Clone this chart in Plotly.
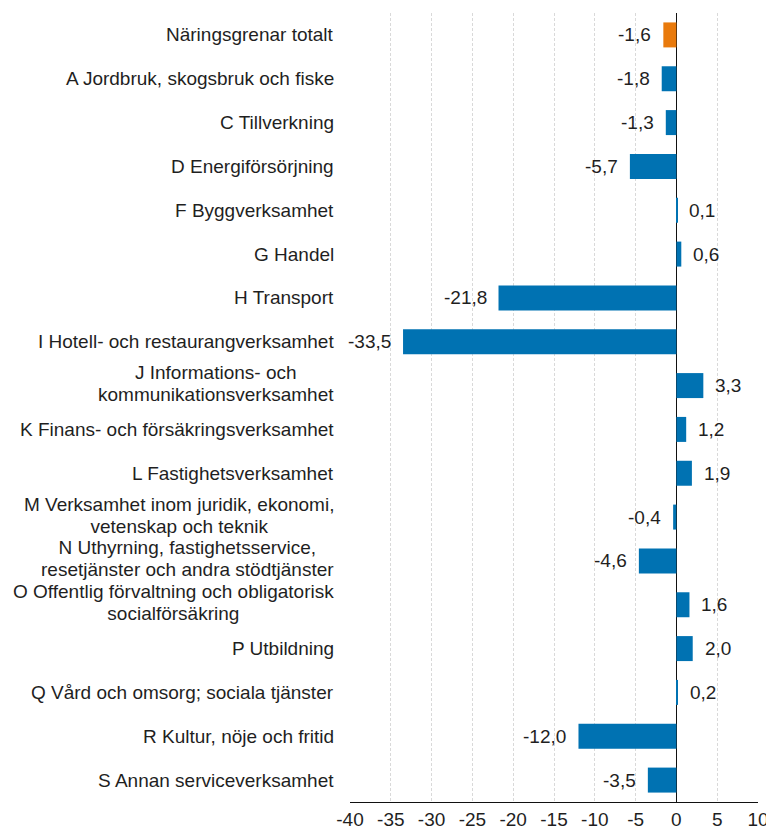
import plotly.graph_objects as go

categories = [
    "Näringsgrenar totalt",
    "A Jordbruk, skogsbruk och fiske",
    "C Tillverkning",
    "D Energiförsörjning",
    "F Byggverksamhet",
    "G Handel",
    "H Transport",
    "I Hotell- och restaurangverksamhet",
    "J Informations- och<br>kommunikationsverksamhet",
    "K Finans- och försäkringsverksamhet",
    "L Fastighetsverksamhet",
    "M Verksamhet inom juridik, ekonomi,<br>vetenskap och teknik",
    "N Uthyrning, fastighetsservice,<br>resetjänster och andra stödtjänster",
    "O Offentlig förvaltning och obligatorisk<br>socialförsäkring",
    "P Utbildning",
    "Q Vård och omsorg; sociala tjänster",
    "R Kultur, nöje och fritid",
    "S Annan serviceverksamhet",
]
values = [-1.6, -1.8, -1.3, -5.7, 0.1, 0.6, -21.8, -33.5, 3.3, 1.2, 1.9,
          -0.4, -4.6, 1.6, 2.0, 0.2, -12.0, -3.5]
tick_vals = [-40, -35, -30, -25, -20, -15, -10, -5, 0, 5, 10]
tick_text = ["-40", "-35", "-30", "-25", "-20", "-15", "-10", "-5", "0", "5", "10"]

BLUE = "#0072B2"
ORANGE = "#E97A0C"
TXT = "#1f1f1f"
FONT = "Liberation Sans, Arial, sans-serif"

ids = list(range(len(categories)))
colors = [ORANGE] + [BLUE] * (len(categories) - 1)

fig = go.Figure()
fig.add_trace(go.Bar(
    x=values, y=ids, orientation="h",
    marker=dict(color=colors, line=dict(width=0)),
    width=0.57, showlegend=False, hoverinfo="skip",
))

annotations = []
for i, (c, v) in enumerate(zip(categories, values)):
    lines = c.split("<br>")
    txt = "<br>".join(f"<span style='font-size:19px'>{ln}</span>" for ln in lines)
    annotations.append(dict(
        x=0, xref="paper", y=i, yref="y", text=txt, showarrow=False,
        xanchor="right", yanchor="middle", align="center", xshift=-14,
        yshift=2 if len(lines) > 1 else 0,
        font=dict(family=FONT, size=17, color=TXT),
    ))
    lbl = f"{v:.1f}".replace(".", ",")
    annotations.append(dict(
        x=v, xref="x", y=i, yref="y", text=lbl, showarrow=False,
        xanchor="left" if v >= 0 else "right", yanchor="middle",
        xshift=10 if v >= 0 else -10,
        font=dict(family=FONT, size=19, color=TXT),
    ))

fig.update_layout(
    width=766, height=832,
    margin=dict(l=342, r=12, t=5, b=38),
    paper_bgcolor="white", plot_bgcolor="white",
    annotations=annotations,
    xaxis=dict(
        range=[-40, 10], tickvals=tick_vals, ticktext=tick_text,
        showgrid=True, gridcolor="#d9d9d9", griddash="3px,2px", gridwidth=1,
        zeroline=True, zerolinecolor="#111111", zerolinewidth=1.3,
        showline=True, linecolor="#111111", linewidth=1.3,
        ticks="", tickfont=dict(family=FONT, size=19, color=TXT),
        fixedrange=True,
    ),
    yaxis=dict(
        range=[len(categories) - 0.5, -0.5],
        showticklabels=False, showgrid=False, zeroline=False,
        showline=False, ticks="",
    ),
)

fig.write_html("out.html")
